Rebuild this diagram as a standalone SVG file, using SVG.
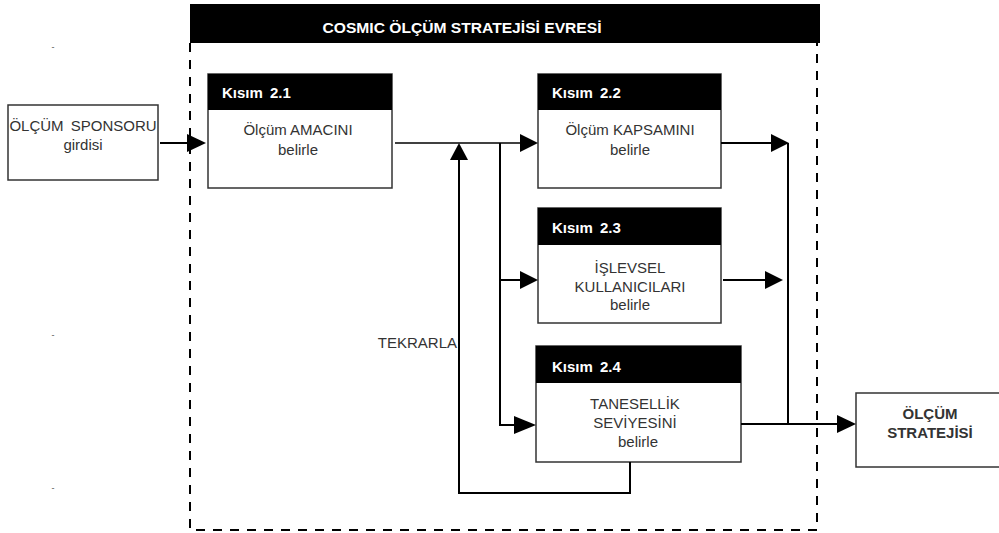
<svg xmlns="http://www.w3.org/2000/svg" width="999" height="533" viewBox="0 0 999 533">
<style>
.box{fill:#fff;stroke:#333;stroke-width:1.5}
.hdr{fill:#000}
.ht{font-family:"Liberation Sans",Arial,sans-serif;font-weight:bold;font-size:15px;fill:#fff}
.bt{font-family:"Liberation Sans",Arial,sans-serif;font-size:15px;fill:#333;text-anchor:middle}
.ln{fill:none;stroke:#000;stroke-width:2}
.thin{fill:none;stroke:#000;stroke-width:1.5}
.ah{fill:#000}
.dash{fill:none;stroke:#000;stroke-width:2;stroke-dasharray:9 8}
</style>
<rect width="999" height="533" fill="#fff"/>
<g id="marks">
<text x="53" y="50" font-family="Liberation Sans, sans-serif" font-size="9" fill="#555" text-anchor="middle">-</text>
<text x="53" y="338" font-family="Liberation Sans, sans-serif" font-size="9" fill="#555" text-anchor="middle">-</text>
<text x="53" y="491" font-family="Liberation Sans, sans-serif" font-size="9" fill="#555" text-anchor="middle">-</text>
</g>
<g id="phase">
<rect x="190" y="4" width="630" height="39" class="hdr"/>
<path d="M190 43 V530 H817 V43" class="dash"/>
<text x="462" y="33" class="ht" text-anchor="middle" textLength="279" lengthAdjust="spacingAndGlyphs">COSMIC ÖLÇÜM STRATEJİSİ EVRESİ</text>
</g>
<g id="sponsor">
<rect x="8" y="105" width="150" height="75" class="box"/>
<text x="83" y="131" class="bt" word-spacing="3">ÖLÇÜM SPONSORU</text>
<text x="83" y="150" class="bt">girdisi</text>
</g>
<g id="k21">
<rect x="208" y="74" width="184" height="114" class="box"/>
<rect x="208" y="74" width="184" height="36" class="hdr"/>
<text x="222" y="98" class="ht" word-spacing="3">Kısım 2.1</text>
<text x="298" y="135" class="bt">Ölçüm AMACINI</text>
<text x="298" y="155" class="bt">belirle</text>
</g>
<g id="k22">
<rect x="538" y="74" width="183" height="114" class="box"/>
<rect x="538" y="74" width="183" height="36" class="hdr"/>
<text x="552" y="98" class="ht" word-spacing="3">Kısım 2.2</text>
<text x="630" y="135" class="bt">Ölçüm KAPSAMINI</text>
<text x="630" y="155" class="bt">belirle</text>
</g>
<g id="k23">
<rect x="538" y="208" width="183" height="115" class="box"/>
<rect x="538" y="208" width="183" height="37" class="hdr"/>
<text x="552" y="233" class="ht" word-spacing="3">Kısım 2.3</text>
<text x="630" y="273" class="bt">İŞLEVSEL</text>
<text x="630" y="292" class="bt">KULLANICILARI</text>
<text x="630" y="310" class="bt">belirle</text>
</g>
<g id="k24">
<rect x="536" y="346" width="205" height="116" class="box"/>
<rect x="536" y="346" width="205" height="37" class="hdr"/>
<text x="552" y="372" class="ht" word-spacing="3">Kısım 2.4</text>
<text x="635" y="409" class="bt">TANESELLİK</text>
<text x="635" y="428" class="bt">SEVİYESİNİ</text>
<text x="638" y="447" class="bt">belirle</text>
</g>
<g id="output">
<rect x="856" y="393" width="160" height="74" class="box"/>
<text x="930" y="419" class="bt" font-weight="bold" fill="#222">ÖLÇÜM</text>
<text x="930" y="438" class="bt" font-weight="bold" fill="#222">STRATEJİSİ</text>
</g>
<g id="connectors">
<path d="M160 143 H189" class="ln"/>
<path d="M187 134 L206 143 L187 152 Z" class="ah"/>
<path d="M395 143 H522" class="thin"/>
<path d="M520 134 L538 143 L520 152 Z" class="ah"/>
<path d="M459 158 V493 H630 V462" class="ln"/>
<path d="M450 160 L459 143 L468 160 Z" class="ah"/>
<path d="M500 143 V425 H516" class="ln"/>
<path d="M500 280 H522" class="ln"/>
<path d="M520 271 L538 280 L520 289 Z" class="ah"/>
<path d="M514 416 L536 425 L514 434 Z" class="ah"/>
<path d="M721 143 H774" class="ln"/>
<path d="M771 134 L789 143 L771 152 Z" class="ah"/>
<path d="M788 143 V424" class="ln"/>
<path d="M723 280 H767" class="ln"/>
<path d="M765 271 L783 280 L765 289 Z" class="ah"/>
<path d="M741 424 H840" class="ln"/>
<path d="M837 415 L856 424 L837 433 Z" class="ah"/>
<text x="457" y="348" font-family="Liberation Sans, Arial, sans-serif" font-size="15" fill="#333" text-anchor="end">TEKRARLA</text>
</g>
</svg>
